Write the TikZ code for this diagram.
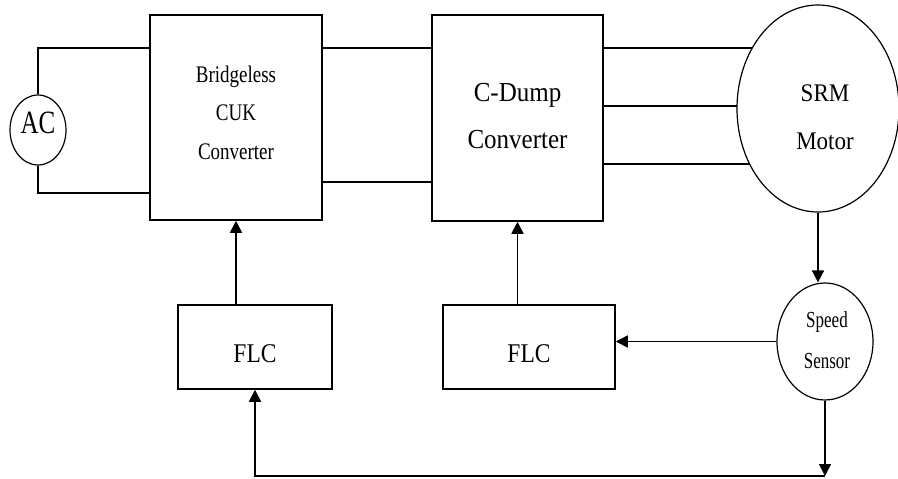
\documentclass[tikz,border=0pt]{standalone}
\usepackage{fontspec}
\setmainfont{Liberation Serif}
\usetikzlibrary{arrows.meta,shapes.geometric,backgrounds}
\newcommand{\vst}[4]{\scalebox{1}[#1]{\fontsize{#2}{#3}\selectfont\begin{tabular}{@{}c@{}}#4\end{tabular}}}
\tikzset{
  blk/.style={draw, line width=1.5pt, fill=white, inner sep=0pt, rectangle},
  elp/.style={draw, line width=1.2pt, fill=white, ellipse, inner sep=0pt},
  con/.style={line width=1.6pt},
  arr/.style={con, -{Triangle[length=12pt,width=12pt]}},
  lbl/.style={inner sep=0pt, text=black}
}
\begin{document}
\begin{tikzpicture}[x=1pt,y=-1pt]
\useasboundingbox (0,0) rectangle (898,479);
\node[elp, minimum width=56pt, minimum height=70pt,
  label={[lbl,yshift=4pt]center:\vst{1.3}{25}{30}{AC}}] (ac) at (38,130) {};
\node[blk, minimum width=172pt, minimum height=205pt,
  label={[lbl,yshift=4.5pt]center:\vst{1.25}{19}{31}{Bridgeless\\CUK\\Converter}}] (cuk) at (236,117.5) {};
\node[blk, minimum width=171pt, minimum height=206pt,
  label={[lbl,yshift=2.5pt]center:\vst{1.1}{25}{43}{C-Dump\\Converter}}] (cd) at (517.5,118) {};
\node[elp, minimum width=162pt, minimum height=207pt,
  label={[lbl,xshift=7pt,yshift=-7.5pt]center:\vst{1.1}{23}{44}{SRM\\Motor}}] (motor) at (818,108.5) {};
\node[elp, minimum width=96pt, minimum height=117pt,
  label={[lbl,xshift=2pt,yshift=1.5pt]center:\vst{1.35}{17}{30}{Speed\\Sensor}}] (ss) at (825,341.5) {};
\node[blk, minimum width=154pt, minimum height=84pt,
  label={[lbl,yshift=-9pt]center:\vst{1.15}{23.5}{28}{FLC}}] (flc1) at (255,347) {};
\node[blk, minimum width=172pt, minimum height=84pt,
  label={[lbl,yshift=-9pt]center:\vst{1.15}{23.5}{28}{FLC}}] (flc2) at (529,347) {};
\begin{scope}[on background layer]
  \draw[con] (ac.north) |- (cuk.west |- 0,48);
  \draw[con] (ac.south) |- (cuk.west |- 0,193);
  \draw[con] (cuk.east |- 0,48) -- (cd.west |- 0,48);
  \draw[con] (cuk.east |- 0,182) -- (cd.west |- 0,182);
  \foreach \yy in {48,106,164} \draw[con] (cd.east |- 0,\yy) -- (motor.center |- 0,\yy);
  \draw[arr] (motor.south) -- (motor.south |- ss.north);
  \draw[arr] (ss.west) -- (flc2.east |- ss.west);
  \draw[arr] (cd.south |- flc2.north) -- (cd.south);
  \draw[arr] (cuk.south |- flc1.north) -- (cuk.south);
  \coordinate (fb) at (ss.south |- 0,476);
  \draw[arr] (ss.south) -- (fb);
  \draw[arr] (fb) -| (flc1.south);
\end{scope}
\end{tikzpicture}
\end{document}
